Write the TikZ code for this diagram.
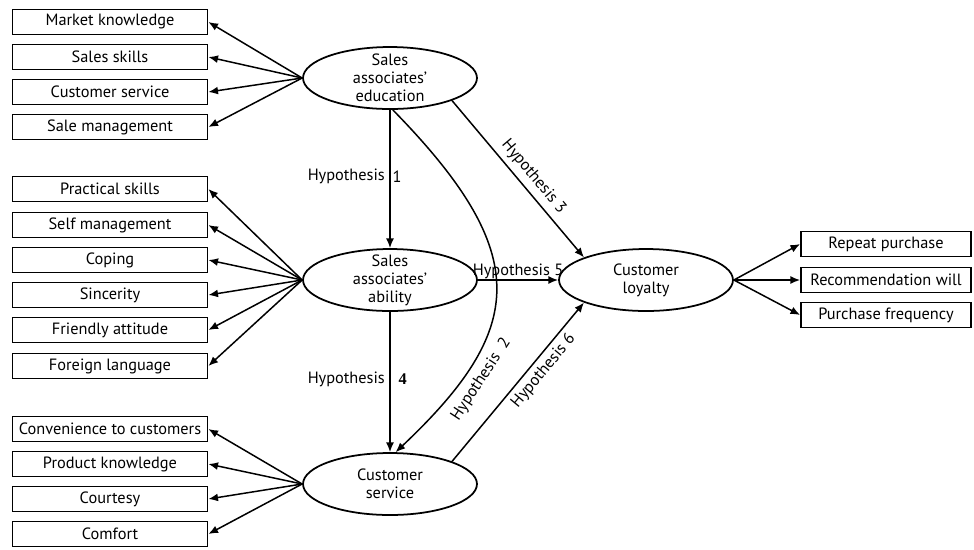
\documentclass[tikz,border=0pt]{standalone}
\usepackage{fontspec}
\setmainfont{PT Sans}
\newfontfamily\numfont{Liberation Serif}
\usetikzlibrary{arrows.meta}
\usetikzlibrary{shapes.geometric}

\begin{document}
\begin{tikzpicture}[x=0.02cm,y=-0.02cm,
    font=\fontsize{9.3}{10.3}\selectfont,
    item/.style={draw,line width=1pt,minimum width=3.9cm,minimum height=0.5cm,inner sep=0pt},
    ritem/.style={item,minimum width=3.4cm},
    factor/.style={draw,ellipse,line width=1pt,minimum width=3.48cm,minimum height=1.24cm,
        inner xsep=0pt,inner ysep=-3pt,align=center},
    link/.style={-{Latex[length=5.5pt,width=4.5pt]},line width=0.85pt},
    hyp/.style={inner sep=1.5pt}]
\useasboundingbox (0,0) rectangle (974,549);

\node[factor] (edu) at (390,78) {Sales\\associates'\\education};
\node[factor] (abl) at (390,280) {Sales\\associates'\\ability};
\node[factor] (csv) at (390,484) {Customer\\service};
\node[factor] (loy) at (646,280) {Customer\\loyalty};

\node[item] (mk) at (110,22) {Market knowledge};
\node[item] (ss) at (110,57) {Sales skills};
\node[item] (cs) at (110,92) {Customer service};
\node[item] (sm) at (110,127) {Sale management};

\node[item] (ps) at (110,189) {Practical skills};
\node[item] (sfm) at (110,225) {Self management};
\node[item] (cop) at (110,260) {Coping};
\node[item] (sin) at (110,295) {Sincerity};
\node[item] (fa) at (110,330) {Friendly attitude};
\node[item] (fl) at (110,366) {Foreign language};

\node[item] (cc) at (110,429) {Convenience to customers};
\node[item] (pk) at (110,464) {Product knowledge};
\node[item] (ct) at (110,499) {Courtesy};
\node[item] (cf) at (110,534) {Comfort};

\node[ritem] (rp) at (886,244) {Repeat purchase};
\node[ritem] (rw) at (886,280) {Recommendation will};
\node[ritem] (pf) at (886,315) {Purchase frequency};

\draw[link] (edu.west) -- (mk.east);
\draw[link] (edu.west) -- (ss.east);
\draw[link] (edu.west) -- (cs.east);
\draw[link] (edu.west) -- (sm.east);

\draw[link] (abl.west) -- (ps.east);
\draw[link] (abl.west) -- (sfm.east);
\draw[link] (abl.west) -- (cop.east);
\draw[link] (abl.west) -- (sin.east);
\draw[link] (abl.west) -- (fa.east);
\draw[link] (abl.west) -- (fl.east);

\draw[link] (csv.west) -- (cc.east);
\draw[link] (csv.west) -- (pk.east);
\draw[link] (csv.west) -- (ct.east);
\draw[link] (csv.west) -- (cf.east);

\draw[link] (loy.east) -- (rp.west);
\draw[link] (loy.east) -- (rw.west);
\draw[link] (loy.east) -- (pf.west);

\draw[link] (edu.south) -- node[hyp,pos=0.48,anchor=east,xshift=-1pt] (h1) {Hypothesis}
    node[hyp,pos=0.48,anchor=west,xshift=-0.5pt] (h1n) {1} (abl.north);
\draw[link] (abl.south) -- node[hyp,pos=0.48,anchor=east,xshift=-1pt] (h4) {Hypothesis}
    node[hyp,pos=0.48,anchor=west,xshift=3pt] (h4n) {\numfont\bfseries 4} (csv.north);
\draw[link] (edu.-85) .. controls (535,255) and (525,330) .. node[hyp,pos=0.76,sloped,below,inner sep=4.5pt] (h2) {Hypothesis\hspace{5pt}2} (csv.80);
\draw[link] (edu.-20) -- node[hyp,pos=0.54,sloped,above,inner sep=3pt] (h3) {Hypothesis 3} (loy.160);
\draw[link] (abl.east) -- node[hyp,pos=0.5,above,inner sep=0.5pt] (h5) {Hypothesis 5} (loy.west);
\draw[link] (csv.20) -- node[hyp,pos=0.62,sloped,below,inner sep=2.5pt] (h6) {Hypothesis 6} (loy.200);
\end{tikzpicture}
\end{document}
